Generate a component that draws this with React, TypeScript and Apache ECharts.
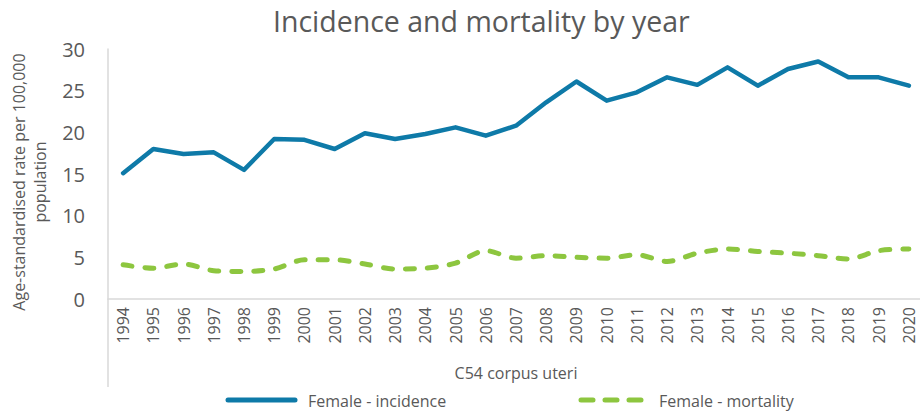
import React, { useEffect, useRef } from "react";
import * as echarts from "echarts";

const years = [
  "1994", "1995", "1996", "1997", "1998", "1999", "2000", "2001", "2002",
  "2003", "2004", "2005", "2006", "2007", "2008", "2009", "2010", "2011",
  "2012", "2013", "2014", "2015", "2016", "2017", "2018", "2019", "2020",
];
const incidence = [
  15.1, 18.0, 17.4, 17.6, 15.5, 19.2, 19.1, 18.0, 19.9, 19.2, 19.8, 20.6, 19.6,
  20.8, 23.6, 26.1, 23.8, 24.8, 26.6, 25.7, 27.8, 25.6, 27.6, 28.5, 26.6, 26.6, 25.6,
];
const mortality = [
  4.1, 3.7, 4.2, 3.4, 3.3, 3.6, 4.7, 4.7, 4.2, 3.6, 3.7, 4.3, 5.8,
  4.9, 5.2, 5.0, 4.9, 5.3, 4.5, 5.5, 6.0, 5.7, 5.5, 5.2, 4.8, 5.8, 6.0,
];
const seriesNames = ["Female - incidence", "Female - mortality"];
const titleText = "Incidence and mortality by year";
const yAxisName = "Age-standardised rate per 100,000\npopulation";
const xAxisName = "C54 corpus uteri";

const FONT = "'Open Sans', sans-serif";
const TEXT = "#595959";
const AXIS = "#d9d9d9";
const BLUE = "#0e7aa8";
const GREEN = "#8dc63f";

export default function App() {
  const ref = useRef<HTMLDivElement>(null);
  useEffect(() => {
    document.body.style.margin = "0";
    const chart = echarts.init(ref.current!, null, { renderer: "svg" });
    chart.setOption({
      animation: false,
      backgroundColor: "#ffffff",
      title: {
        text: titleText,
        left: 268,
        top: 1,
        textStyle: { fontFamily: FONT, fontSize: 28.5, fontWeight: "normal", color: TEXT },
      },
      legend: [
        {
          data: [seriesNames[0]],
          left: 225,
          top: 387,
          itemWidth: 72,
          itemHeight: 18,
          itemStyle: { opacity: 0 },
          lineStyle: { opacity: 0 },
          textStyle: { fontFamily: FONT, fontSize: 16, lineHeight: 18, color: TEXT },
        },
        {
          data: [seriesNames[1]],
          left: 578,
          top: 387,
          itemWidth: 70,
          itemHeight: 18,
          itemStyle: { opacity: 0 },
          lineStyle: { opacity: 0 },
          textStyle: { fontFamily: FONT, fontSize: 16, lineHeight: 18, color: TEXT },
        },
      ],
      grid: { left: 108, top: 49, width: 816, height: 250, outerBoundsMode: "none", containLabel: false },
      xAxis: {
        type: "category",
        data: years,
        boundaryGap: true,
        axisLine: { lineStyle: { color: AXIS, width: 1.5 } },
        axisTick: { show: false },
        axisLabel: {
          rotate: 90,
          interval: 0,
          margin: 8,
          fontFamily: FONT,
          fontSize: 16,
          lineHeight: 16,
          color: TEXT,
        },
        name: xAxisName,
        nameLocation: "middle",
        nameGap: 66,
        nameMoveOverlap: false,
        nameTextStyle: { fontFamily: FONT, fontSize: 16, color: TEXT },
      },
      yAxis: {
        type: "value",
        min: 0,
        max: 30,
        interval: 5,
        axisLine: { show: true, lineStyle: { color: AXIS, width: 1.5 } },
        axisTick: { show: false },
        splitLine: { show: false },
        axisLabel: { fontFamily: FONT, fontSize: 20, color: TEXT, margin: 23 },
        name: yAxisName,
        nameLocation: "middle",
        nameGap: 58,
        nameRotate: 90,
        nameMoveOverlap: false,
        nameTextStyle: {
          fontFamily: FONT,
          fontSize: 16,
          color: TEXT,
          lineHeight: 21,
          padding: [0, 16, 0, 0],
        },
      },
      graphic: [
        {
          type: "line",
          shape: { x1: 108, y1: 299, x2: 108, y2: 387 },
          style: { stroke: AXIS, lineWidth: 1.5 },
        },
        {
          type: "line",
          shape: { x1: 228, y1: 400, x2: 295, y2: 400 },
          style: { stroke: BLUE, lineWidth: 5, lineCap: "round" },
        },
        {
          type: "line",
          shape: { x1: 581, y1: 400, x2: 645, y2: 400 },
          style: { stroke: GREEN, lineWidth: 5, lineCap: "round", lineDash: [12, 12] },
        },
      ],
      series: [
        {
          name: seriesNames[0],
          type: "line",
          data: incidence,
          symbol: "none",
          lineStyle: { color: BLUE, width: 4.5, cap: "round", join: "round" },
          itemStyle: { color: BLUE },
        },
        {
          name: seriesNames[1],
          type: "line",
          data: mortality,
          symbol: "none",
          smooth: 0.3,
          lineStyle: {
            color: GREEN,
            width: 5,
            type: [9, 13],
            cap: "round",
            join: "round",
          },
          itemStyle: { color: GREEN },
        },
      ],
    });
    return () => chart.dispose();
  }, []);
  return <div ref={ref} style={{ width: 920, height: 412 }} />;
}
